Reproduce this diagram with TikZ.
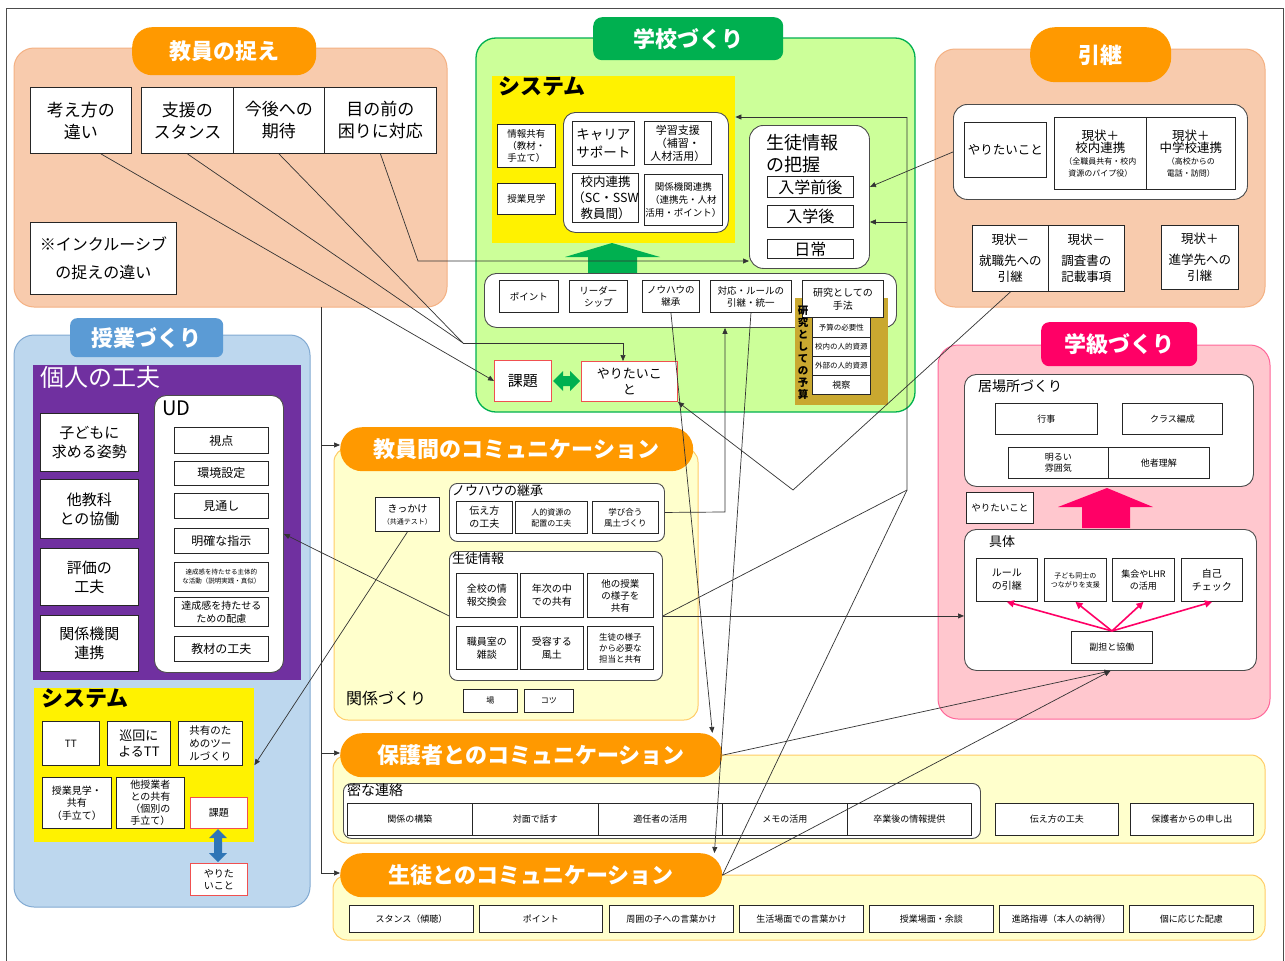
\documentclass[tikz,border=0pt]{standalone}
\usepackage{fontspec}
\setmainfont{Noto Sans CJK JP}
\usetikzlibrary{arrows.meta,calc}
\definecolor{peach}{RGB}{248,203,173}
\definecolor{peachline}{RGB}{244,177,131}
\definecolor{hdrorange}{RGB}{255,153,0}
\definecolor{lgreen}{RGB}{204,255,153}
\definecolor{dgreen}{RGB}{0,176,80}
\definecolor{lblue}{RGB}{189,215,238}
\definecolor{lblueline}{RGB}{130,170,210}
\definecolor{hdrblue}{RGB}{91,155,213}
\definecolor{purp}{RGB}{112,48,160}
\definecolor{lpink}{RGB}{255,199,206}
\definecolor{pinkline}{RGB}{255,102,153}
\definecolor{hdrpink}{RGB}{255,0,102}
\definecolor{lyellow}{RGB}{255,255,204}
\definecolor{yline}{RGB}{255,204,102}
\definecolor{gold}{RGB}{201,168,48}
\definecolor{redline}{RGB}{240,80,80}
\definecolor{dblue}{RGB}{46,117,182}
\newcommand\fs[2]{\fontsize{#1}{#2}\selectfont}
\newcommand\bx[7]{\node[#6,anchor=north west,minimum width=#4pt-#2pt,minimum height=#5pt-#3pt] (#1) at (#2,#3) {#7};}
\tikzset{
 box/.style={draw=black!85,fill=white,line width=0.9pt,align=center,inner sep=0pt},
 rbox/.style={box,draw=redline},
 cont/.style={draw=black!70,fill=white,line width=0.9pt,rounded corners=10pt,inner sep=0pt},
 hdr/.style={rounded corners=20pt,text=white,font=\fs{22}{26}\bfseries,inner sep=0pt,align=center},
 lab/.style={anchor=north west,inner sep=0pt,align=left},
 grp/.style={line width=1pt,rounded corners=20pt},
 conn/.style={draw=black!80,line width=0.7pt},
 arr/.style={conn,-{Triangle[length=6pt,width=5pt]}},
 parr/.style={draw=hdrpink,line width=1.6pt,-{Triangle[length=7pt,width=7pt]}},
}
\begin{document}
\begin{tikzpicture}[x=1pt,y=-1pt]
\useasboundingbox (0,0) rectangle (1285,961);
\fill[white] (0,0) rectangle (1285,961);
\draw[black!70,line width=0.8pt] (6,961) -- (6,8) -- (1283,8) -- (1283,961);

% ===== 教員の捉え =====
\draw[grp,fill=peach,draw=peachline] (14,48) rectangle (447,307);
\bx{h1}{132}{27}{316}{75}{hdr,fill=hdrorange}{教員の捉え}
\bx{k1}{30}{87}{131}{153}{box,font=\fs{17}{22}}{考え方の\\違い}
\bx{k2}{141}{87}{233}{153}{box,font=\fs{17}{22}}{支援の\\スタンス}
\bx{k3}{233}{87}{324}{153}{box,font=\fs{17}{22}}{今後への\\期待}
\bx{k4}{324}{87}{436}{153}{box,font=\fs{17}{22}}{目の前の\\困りに対応}
\bx{k5}{30}{222}{176}{294}{box,font=\fs{16}{28}}{※インクルーシブ\\の捉えの違い}

% ===== 学校づくり =====
\draw[grp,fill=lgreen,draw=dgreen,line width=1.3pt] (476,38) rectangle (915,412);
\bx{h2}{593}{17}{783}{60}{hdr,fill=dgreen,rounded corners=9pt}{学校づくり}
\bx{sysY}{492}{76}{735}{243}{fill=yellow,inner sep=0pt}{}
\node[lab,font=\fs{22}{24}\bfseries] at (498,77) {システム};
\bx{s1}{497}{124}{555}{167}{box,font=\fs{9.5}{12}}{情報共有\\（教材・\\手立て）}
\bx{s2}{497}{183}{555}{214}{box,font=\fs{9.5}{12}}{授業見学}
\bx{sw}{563}{112}{728}{232}{cont,rounded corners=12pt}{}
\bx{s3}{572}{121}{634}{165}{box,font=\fs{13.5}{18}}{キャリア\\サポート}
\bx{s4}{644}{121}{711}{164}{box,font=\fs{11}{13}}{学習支援\\（補習・\\人材活用）}
\bx{s5}{572}{173}{636}{222}{box,font=\fs{12.5}{16}}{校内連携\\（SC・SSW\\教員間）}
\bx{s6}{644}{174}{722}{225}{box,font=\fs{9.5}{13}}{関係機関連携\\（連携先・人材\\活用・ポイント）}
\fill[dgreen] (588,274) -- (588,257) -- (565,257) -- (612,243) -- (660,257) -- (637,257) -- (637,274) -- cycle;
\bx{gj}{749}{125}{869}{268}{cont,rounded corners=14pt}{}
\node[lab,font=\fs{18}{22}] at (766,134) {生徒情報\\の把握};
\bx{gj1}{767}{176}{853}{197}{box,font=\fs{16}{18}}{入学前後}
\bx{gj2}{767}{205}{853}{227}{box,font=\fs{16}{18}}{入学後}
\bx{gj3}{767}{239}{853}{258}{box,font=\fs{16}{18}}{日常}
\bx{bw}{484}{273}{896}{327}{cont,rounded corners=12pt}{}
\fill[gold] (795,298) rectangle (888,405);
\bx{p1}{499}{280}{558}{312}{box,font=\fs{9.5}{12}}{ポイント}
\bx{p2}{569}{280}{627}{312}{box,font=\fs{9.5}{12}}{リーダー\\シップ}
\bx{p3}{642}{280}{699}{312}{box,font=\fs{9.5}{12}}{ノウハウの\\継承}
\bx{p4}{710}{280}{791}{312}{box,font=\fs{9.5}{12}}{対応・ルールの\\引継・統一}
\bx{p5}{802}{280}{883}{317}{box,font=\fs{10}{13}}{研究としての\\手法}
\bx{r1}{812}{317}{870}{337}{box,font=\fs{7.5}{9}}{予算の必要性}
\bx{r2}{812}{337}{870}{356}{box,font=\fs{7.5}{9}}{校内の人的資源}
\bx{r3}{812}{356}{870}{375}{box,font=\fs{7.5}{9}}{外部の人的資源}
\bx{r4}{812}{375}{870}{394}{box,font=\fs{9}{10}}{視察}
\node[font=\fs{10.5}{12}\bfseries,align=center,inner sep=0pt] (rv) at (803,353) {研\\究\\と\\し\\て\\の\\予\\算};
\bx{kd}{494}{360}{551}{401}{rbox,font=\fs{15}{18}}{課題}
\bx{yr}{581}{361}{677}{401}{rbox,font=\fs{13}{16}}{やりたいこ\\と}
\fill[dgreen] (553,381) -- (563,371) -- (563,376) -- (570,376) -- (570,371) -- (580,381) -- (570,391) -- (570,386) -- (563,386) -- (563,391) -- cycle;

% ===== 引継 =====
\draw[grp,fill=peach,draw=peachline] (935,49) rectangle (1265,307);
\bx{h3}{1030}{27}{1171}{82}{hdr,fill=hdrorange,rounded corners=25pt}{引継}
\bx{hw}{953}{104}{1247}{199}{cont,rounded corners=14pt}{}
\bx{hy}{964}{122}{1046}{177}{box,font=\fs{12.5}{15}}{やりたいこと}
\bx{hg1}{1054}{117}{1146}{189}{box}{\fs{12.5}{15}現状＋\\\fs{12.5}{15}校内連携\\\fs{8}{10.5}（全職員共有・校内\\\fs{8}{10.5}資源のパイプ役）}
\bx{hg2}{1146}{117}{1235}{189}{box}{\fs{12.5}{15}現状＋\\\fs{12.5}{15}中学校連携\\\fs{8}{10.5}（高校からの\\\fs{8}{10.5}電話・訪問）}
\bx{hm1}{972}{225}{1048}{291}{box,font=\fs{12.5}{16}}{現状－\\[5pt]就職先への\\引継}
\bx{hm2}{1048}{225}{1124}{291}{box,font=\fs{12.5}{16}}{現状－\\[5pt]調査書の\\記載事項}
\bx{hp}{1161}{225}{1238}{289}{box,font=\fs{12.5}{16}}{現状＋\\[5pt]進学先への\\引継}

% ===== 授業づくり =====
\draw[grp,fill=lblue,draw=lblueline] (14,335) rectangle (310,907);
\bx{h4}{70}{318}{223}{357}{hdr,fill=hdrblue,rounded corners=7pt}{授業づくり}
\fill[purp] (33,365) rectangle (301,680);
\node[lab,font=\fs{24}{26},text=white] at (40,366) {個人の工夫};
\bx{c1}{40}{413}{138}{471}{box,font=\fs{15}{19}}{子どもに\\求める姿勢}
\bx{c2}{40}{479}{138}{538}{box,font=\fs{15}{19}}{他教科\\との協働}
\bx{c3}{40}{548}{138}{605}{box,font=\fs{15}{19}}{評価の\\工夫}
\bx{c4}{40}{615}{138}{671}{box,font=\fs{15}{19}}{関係機関\\連携}
\bx{ud}{154}{395}{283}{672}{cont,rounded corners=12pt}{}
\node[lab,font=\fs{20}{22}] at (162,401) {UD};
\bx{u1}{174}{427}{268}{453}{box,font=\fs{12}{14}}{視点}
\bx{u2}{174}{461}{268}{485}{box,font=\fs{12}{14}}{環境設定}
\bx{u3}{174}{493}{268}{518}{box,font=\fs{12}{14}}{見通し}
\bx{u4}{174}{528}{268}{553}{box,font=\fs{12}{14}}{明確な指示}
\bx{u5}{174}{562}{268}{591}{box,font=\fs{6.5}{9}}{達成感を持たせる主体的\\な活動（説明実践・真似）}
\bx{u6}{174}{597}{268}{626}{box,font=\fs{10}{13}}{達成感を持たせる\\ための配慮}
\bx{u7}{174}{636}{268}{661}{box,font=\fs{12}{14}}{教材の工夫}
\bx{sysL}{34}{688}{254}{842}{fill=yellow,inner sep=0pt}{}
\node[lab,font=\fs{22}{24}\bfseries] at (41,689) {システム};
\bx{t1}{42}{721}{99}{765}{box,font=\fs{10}{12}}{TT}
\bx{t2}{107}{721}{170}{765}{box,font=\fs{13}{16}}{巡回に\\よるTT}
\bx{t3}{178}{721}{242}{765}{box,font=\fs{10.5}{13}}{共有のた\\めのツー\\ルづくり}
\bx{t4}{42}{777}{111}{828}{box,font=\fs{10}{12.5}}{授業見学・\\共有\\（手立て）}
\bx{t5}{116}{777}{184}{828}{box,font=\fs{10}{12}}{他授業者\\との共有\\（個別の\\手立て）}
\bx{t6}{190}{797}{247}{828}{rbox,font=\fs{10}{12}}{課題}
\bx{t7}{190}{863}{247}{895}{rbox,font=\fs{10}{12}}{やりた\\いこと}
\fill[dblue] (218,829) -- (227,838) -- (222,838) -- (222,853) -- (227,853) -- (218,862) -- (209,853) -- (214,853) -- (214,838) -- (209,838) -- cycle;

% ===== 学級づくり =====
\draw[grp,fill=lpink,draw=pinkline] (938,345) rectangle (1270,719);
\bx{h5}{1041}{322}{1197}{366}{hdr,fill=hdrpink,rounded corners=8pt}{学級づくり}
\bx{ib}{964}{374}{1253}{486}{cont,rounded corners=12pt}{}
\node[lab,font=\fs{14}{16}] at (978,380) {居場所づくり};
\bx{i1}{995}{403}{1097}{434}{box,font=\fs{9}{11}}{行事}
\bx{i2}{1122}{403}{1222}{434}{box,font=\fs{9}{11}}{クラス編成}
\bx{i3}{1008}{447}{1108}{478}{box,font=\fs{9}{11}}{明るい\\雰囲気}
\bx{i4}{1108}{447}{1209}{478}{box,font=\fs{9}{11}}{他者理解}
\bx{iy}{966}{492}{1033}{523}{box,font=\fs{9.5}{11}}{やりたいこと}
\fill[hdrpink] (1082,528) -- (1082,507) -- (1058,507) -- (1107,488) -- (1153,507) -- (1130,507) -- (1130,528) -- cycle;
\bx{gt}{964}{529}{1256}{670}{cont,rounded corners=12pt}{}
\node[lab,font=\fs{13}{15}] at (989,535) {具体};
\bx{g1}{976}{558}{1037}{601}{box,font=\fs{10}{13}}{ルール\\の引継}
\bx{g2}{1044}{558}{1106}{601}{box,font=\fs{7}{9}}{子ども同士の\\つながりを支援}
\bx{g3}{1112}{558}{1174}{601}{box,font=\fs{9}{12}}{集会やLHR\\の活用}
\bx{g4}{1181}{558}{1242}{601}{box,font=\fs{10}{13}}{自己\\チェック}
\bx{g5}{1071}{631}{1152}{663}{box,font=\fs{9}{11}}{副担と協働}
\foreach \t in {g1,g2,g3,g4} \draw[parr] (g5.north) -- (\t.south);

% ===== 教員間のコミュニケーション =====
\draw[grp,fill=lyellow,draw=yline,rounded corners=14pt] (334,448) rectangle (698,720);
\bx{h6}{340}{427}{693}{471}{hdr,fill=hdrorange,rounded corners=22pt}{教員間のコミュニケーション}
\bx{kk}{375}{497}{439}{531}{box}{\fs{10}{13}きっかけ\\\fs{7}{10}（共通テスト）}
\bx{nh}{449}{483}{664}{541}{cont,rounded corners=8pt}{}
\node[lab,font=\fs{13}{15}] at (452,484) {ノウハウの継承};
\bx{n1}{456}{501}{512}{533}{box,font=\fs{10}{13}}{伝え方\\の工夫}
\bx{n2}{515}{501}{587}{533}{box,font=\fs{8}{11}}{人的資源の\\配置の工夫}
\bx{n3}{592}{501}{658}{533}{box,font=\fs{8.5}{11}}{学び合う\\風土づくり}
\bx{sj}{449}{551}{662}{680}{cont,rounded corners=8pt}{}
\node[lab,font=\fs{13}{15}] at (452,552) {生徒情報};
\bx{j1}{456}{573}{517}{617}{box,font=\fs{10}{13}}{全校の情\\報交換会}
\bx{j2}{520}{573}{583}{617}{box,font=\fs{10}{13}}{年次の中\\での共有}
\bx{j3}{587}{573}{653}{617}{box,font=\fs{9.5}{12}}{他の授業\\の様子を\\共有}
\bx{j4}{456}{626}{517}{669}{box,font=\fs{10}{13}}{職員室の\\雑談}
\bx{j5}{520}{626}{583}{669}{box,font=\fs{10}{13}}{受容する\\風土}
\bx{j6}{587}{626}{653}{669}{box,font=\fs{8.5}{11}}{生徒の様子\\から必要な\\担当と共有}
\node[lab,font=\fs{16}{18}] at (346,691) {関係づくり};
\bx{kb1}{463}{689}{517}{712}{box,font=\fs{8}{10}}{場}
\bx{kb2}{524}{689}{573}{712}{box,font=\fs{8}{10}}{コツ}

% ===== 保護者とのコミュニケーション =====
\draw[grp,fill=lyellow,draw=yline,rounded corners=14pt] (333,755) rectangle (1265,843);
\bx{h7}{340}{733}{722}{777}{hdr,fill=hdrorange,rounded corners=22pt}{保護者とのコミュニケーション}
\bx{mr}{343}{783}{980}{838}{cont,rounded corners=8pt}{}
\node[lab,font=\fs{14}{16}] at (347,784) {密な連絡};
\bx{m1}{347}{803}{472}{835}{box,font=\fs{9}{11}}{関係の構築}
\bx{m2}{472}{803}{598}{835}{box,font=\fs{9}{11}}{対面で話す}
\bx{m3}{598}{803}{722}{835}{box,font=\fs{9}{11}}{適任者の活用}
\bx{m4}{722}{803}{847}{835}{box,font=\fs{9}{11}}{メモの活用}
\bx{m5}{847}{803}{971}{835}{box,font=\fs{9}{11}}{卒業後の情報提供}
\bx{m6}{995}{803}{1118}{835}{box,font=\fs{9}{11}}{伝え方の工夫}
\bx{m7}{1130}{803}{1253}{835}{box,font=\fs{9}{11}}{保護者からの申し出}

% ===== 生徒とのコミュニケーション =====
\draw[grp,fill=lyellow,draw=yline,rounded corners=14pt] (333,875) rectangle (1265,940);
\bx{h8}{340}{853}{722}{897}{hdr,fill=hdrorange,rounded corners=22pt}{生徒とのコミュニケーション}
\bx{st1}{349}{905}{473}{932}{box,font=\fs{9}{11}}{スタンス（傾聴）}
\bx{st2}{479}{905}{602}{932}{box,font=\fs{9}{11}}{ポイント}
\bx{st3}{609}{905}{733}{932}{box,font=\fs{9}{11}}{周囲の子への言葉かけ}
\bx{st4}{739}{905}{863}{932}{box,font=\fs{9}{11}}{生活場面での言葉かけ}
\bx{st5}{869}{905}{993}{932}{box,font=\fs{9}{11}}{授業場面・余談}
\bx{st6}{999}{905}{1123}{932}{box,font=\fs{9}{11}}{進路指導（本人の納得）}
\bx{st7}{1129}{905}{1253}{932}{box,font=\fs{9}{11}}{個に応じた配慮}

% ===== connectors =====
\draw[arr] ([xshift=20pt]k1.south) -- (kd.west);
\coordinate (jn) at (463,343);
\coordinate (jn2) at (623,343);
\draw[conn] (k2.south) -- (jn);
\draw[conn] (k3.south) -- (jn);
\draw[arr] (jn) -- (jn2) -- (jn2 |- yr.north);
\coordinate (b3) at (418,261);
\draw[arr] (k4.south) -- (b3) -- (b3 -| gj.west);
\coordinate (v0) at (321,307);
\coordinate (v1) at (321,445);
\coordinate (v2) at (321,753);
\coordinate (v3) at (321,873);
\draw[conn] (v0) -- (v3);
\draw[arr] (v1) -- (v1 -| h6.west);
\draw[arr] (v2) -- (v2 -| h7.west);
\draw[arr] (v3) -- (v3 -| h8.west);
\draw[arr] (hw.west) -- (gj.east |- gj1.center);
\coordinate (vb) at (793,490);
\draw[arr] (hm1.south) -- (vb) -- (yr.south east);
\coordinate (c7) at (725,512);
\draw[arr] (nh.east) -- (c7) -- (c7 |- bw.south);
\draw[arr] (sj.east) -- (sj.east -| gt.west);
\coordinate (c9) at (907,490);
\coordinate (c9a) at (907,117);
\coordinate (c9b) at (907,222);
\draw[conn] (sj.east) -- (c9) -- (c9a);
\draw[conn] (c9) -- (h8.east);
\draw[arr] (c9a) -- (c9a -| sysY.east);
\draw[arr] (c9b) -- (c9b -| gj.east);
\draw[arr] (sj.west) -- (ud.east);
\draw[arr] (kk.south) -- (sysL.east);
\draw[arr] (h7.east) -- (gt.south);
\draw[arr] (h8.east) -- (gt.south);
\draw[arr] (p3.south) -- ([xshift=-10pt]h7.north east);
\draw[arr] (p4.south) -- ([xshift=-8pt]h8.north east);
\end{tikzpicture}
\end{document}
